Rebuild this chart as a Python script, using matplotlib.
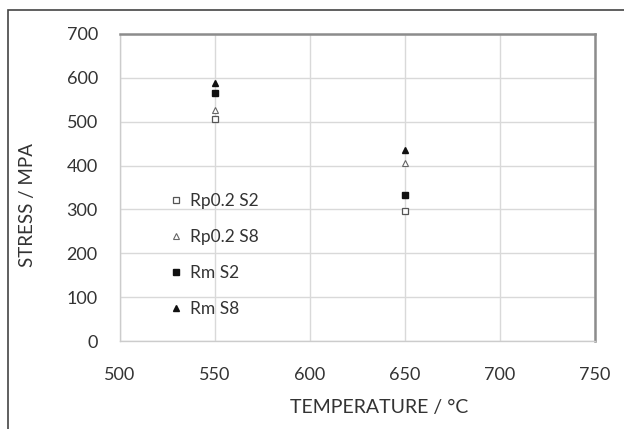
import matplotlib
matplotlib.use("Agg")
import matplotlib.pyplot as plt
from matplotlib.patches import Rectangle

plt.rcParams['font.family'] = ['Lato', 'DejaVu Sans']

temperatures = [550, 650]
rp02_s2 = [507, 297]
rp02_s8 = [527, 407]
rm_s2 = [565, 332]
rm_s8 = [589, 435]
series_labels = ["Rp0.2 S2", "Rp0.2 S8", "Rm S2", "Rm S8"]
x_ticks = [500, 550, 600, 650, 700, 750]
y_ticks = [0, 100, 200, 300, 400, 500, 600, 700]

W, H = 624, 429
fig = plt.figure(figsize=(W / 100, H / 100), dpi=100)
fig.patch.set_facecolor('white')

# outer frame (left and top visible)
fig.add_artist(Rectangle((8 / W, -0.05), 1.1, (H - 10) / H + 0.05, transform=fig.transFigure,
                         fill=False, edgecolor='#444444', linewidth=1.2))

ax = fig.add_axes([120 / W, 1 - 341 / H, (595 - 120) / W, (341 - 34) / H])
ax.set_xlim(500, 750)
ax.set_ylim(0, 700)
ax.set_xticks(x_ticks)
ax.set_yticks(y_ticks)
ax.grid(True, color='#d9d9d9', linewidth=1.0)
ax.set_axisbelow(True)
ax.tick_params(length=0, labelsize=13, colors='#333333')
ax.tick_params(axis='y', pad=16)
ax.tick_params(axis='x', pad=19)
for s in ['left', 'bottom']:
    ax.spines[s].set_color('#cccccc')
    ax.spines[s].set_linewidth(1.0)
for s in ['top', 'right']:
    ax.spines[s].set_color('#8c8c8c')
    ax.spines[s].set_linewidth(1.8)

ms_sq = 4.3
ms_tri = 4.6
ax.plot(temperatures, rp02_s2, linestyle='none', marker='s', markersize=ms_sq,
        markerfacecolor='white', markeredgecolor='#555555', markeredgewidth=0.9, label=series_labels[0])
ax.plot(temperatures, rp02_s8, linestyle='none', marker='^', markersize=ms_tri,
        markerfacecolor='white', markeredgecolor='#666666', markeredgewidth=0.8, label=series_labels[1])
ax.plot(temperatures, rm_s2, linestyle='none', marker='s', markersize=ms_sq,
        markerfacecolor='#111111', markeredgecolor='#111111', label=series_labels[2])
ax.plot(temperatures, rm_s8, linestyle='none', marker='^', markersize=ms_tri,
        markerfacecolor='#111111', markeredgecolor='#111111', label=series_labels[3])

leg = ax.legend(loc='upper left', bbox_to_anchor=((170 - 120) / 475, (341 - 193) / 307),
                frameon=False, fontsize=12.5, handlelength=0.7, handletextpad=0.45,
                labelspacing=1.15, borderpad=0, borderaxespad=0)
for t in leg.get_texts():
    t.set_color('#333333')

fig.text(379 / W, 1 - 408 / H, 'TEMPERATURE / °C', fontsize=14, color='#333333',
         ha='center', va='center')
fig.text(28 / W, 1 - 205 / H, 'STRESS / MPA', fontsize=13.5, color='#333333',
         ha='center', va='center', rotation=90)

fig.savefig('out.png', dpi=100)
